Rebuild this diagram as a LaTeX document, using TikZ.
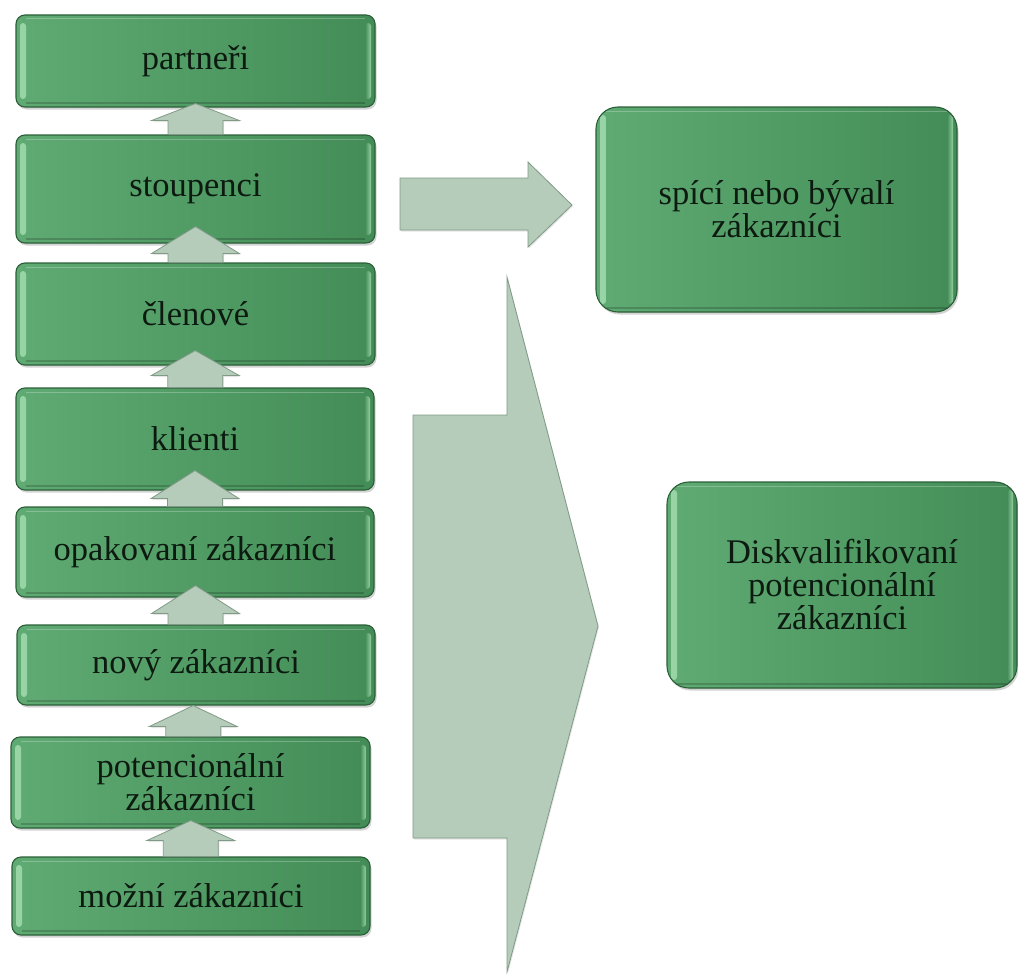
\documentclass[tikz,border=0pt]{standalone}
\usepackage{fontspec}
\setmainfont{Liberation Serif}
\usetikzlibrary{calc,shadows}

\definecolor{boxlight}{HTML}{5FAB73}
\definecolor{boxdark}{HTML}{438C57}
\definecolor{boxedge}{HTML}{2A5F38}
\definecolor{boxglow}{HTML}{A8E0B3}
\definecolor{arrowfill}{HTML}{B4CCB9}
\definecolor{arrowedge}{HTML}{7F9A85}
\definecolor{ink}{HTML}{0C1A10}

\tikzset{
  stage/.style={
    draw=boxedge, line width=1.1pt, rounded corners=9pt,
    left color=boxlight, right color=boxdark,
    text=ink, font=\fontsize{34.5}{33}\selectfont,
    align=center, inner sep=0pt,
    drop shadow={shadow xshift=1.5pt, shadow yshift=-2.5pt, opacity=.35},
    path picture={
      % bevel highlights along the left and right edges
      \path[rounded corners=3pt, left color=boxglow, right color=boxlight, fill opacity=.8]
        ($(path picture bounding box.north west)+(4pt,-8pt)$) rectangle
        ($(path picture bounding box.south west)+(10pt,8pt)$);
      \path[rounded corners=3pt, left color=boxdark, right color=boxglow, fill opacity=.8]
        ($(path picture bounding box.north east)+(-10pt,-8pt)$) rectangle
        ($(path picture bounding box.south east)+(-4pt,8pt)$);
      \draw[white, opacity=.25, line width=1pt]
        ($(path picture bounding box.north west)+(10pt,-4pt)$) --
        ($(path picture bounding box.north east)+(-10pt,-4pt)$);
      \draw[black, opacity=.18, line width=1.2pt]
        ($(path picture bounding box.south west)+(10pt,4pt)$) --
        ($(path picture bounding box.south east)+(-10pt,4pt)$);
    }},
  bigstage/.style={stage, rounded corners=22pt},
  arrowblock/.style={fill=arrowfill, draw=arrowedge, line width=0.8pt, line join=miter,
    drop shadow={shadow xshift=1pt, shadow yshift=-1.5pt, opacity=.2}},
}

% block arrow rising from the top of #1 into the bottom of #2;
% #3 = height of the tip above #2.south, #4 = height of the head
\newcommand\liftarrow[4]{%
  \filldraw[arrowblock] let \p1=(#1.north), \p2=(#2.south) in
    ({(\x1+\x2)/2-27.5pt},\y1) --
    ({(\x1+\x2)/2-27.5pt},{\y2+#3pt-#4pt}) --
    ({(\x1+\x2)/2-44pt},{\y2+#3pt-#4pt}) --
    ({(\x1+\x2)/2},{\y2+#3pt}) --
    ({(\x1+\x2)/2+44pt},{\y2+#3pt-#4pt}) --
    ({(\x1+\x2)/2+27.5pt},{\y2+#3pt-#4pt}) --
    ({(\x1+\x2)/2+27.5pt},\y1) -- cycle;
}

\begin{document}
\begin{tikzpicture}[x=1pt, y=-1pt]
\useasboundingbox (0,0) rectangle (1018,974);

% large arrows pointing to the right-hand column
\filldraw[arrowblock] (413,415) -- (507,415) -- (507,277) -- (598,626)
  -- (507,972) -- (507,838) -- (413,838) -- cycle;
\filldraw[arrowblock] (400,178) -- (528,178) -- (528,162) -- (572,205)
  -- (528,247) -- (528,230) -- (400,230) -- cycle;

% customer ladder, top to bottom
\node[stage, minimum width=359pt, minimum height=92pt]  (partneri)  at (195.5,61)   {partneři};
\node[stage, minimum width=359pt, minimum height=108pt] (stoupenci) at (195.5,189)  {stoupenci};
\node[stage, minimum width=359pt, minimum height=102pt] (clenove)   at (195.5,314)  {členové};
\node[stage, minimum width=358pt, minimum height=102pt] (klienti)   at (195,439)    {klienti};
\node[stage, minimum width=358pt, minimum height=90pt]  (opakovani) at (195,552)    {opakovaní zákazníci};
\node[stage, minimum width=358pt, minimum height=80pt]  (novy)      at (196,665)    {nový zákazníci};
\node[stage, minimum width=359pt, minimum height=91pt]  (potenc)    at (190.5,782.5){potencionální\\zákazníci};
\node[stage, minimum width=358pt, minimum height=78pt]  (mozni)     at (191,896)    {možní zákazníci};

% side outcomes
\node[bigstage, minimum width=361pt, minimum height=205pt] (spici) at (776.5,209.5) {spící nebo bývalí\\zákazníci};
\node[bigstage, minimum width=350pt, minimum height=206pt] (diskv) at (842,585) {Diskvalifikovaní\\potencionální\\zákazníci};

% upward steps between the rungs
\liftarrow{stoupenci}{partneri}{4}{17}
\liftarrow{clenove}{stoupenci}{17}{27}
\liftarrow{klienti}{clenove}{15}{25}
\liftarrow{opakovani}{klienti}{20}{28}
\liftarrow{novy}{opakovani}{12}{28}
\liftarrow{potenc}{novy}{0}{21}
\liftarrow{mozni}{potenc}{8}{20}
\end{tikzpicture}
\end{document}
